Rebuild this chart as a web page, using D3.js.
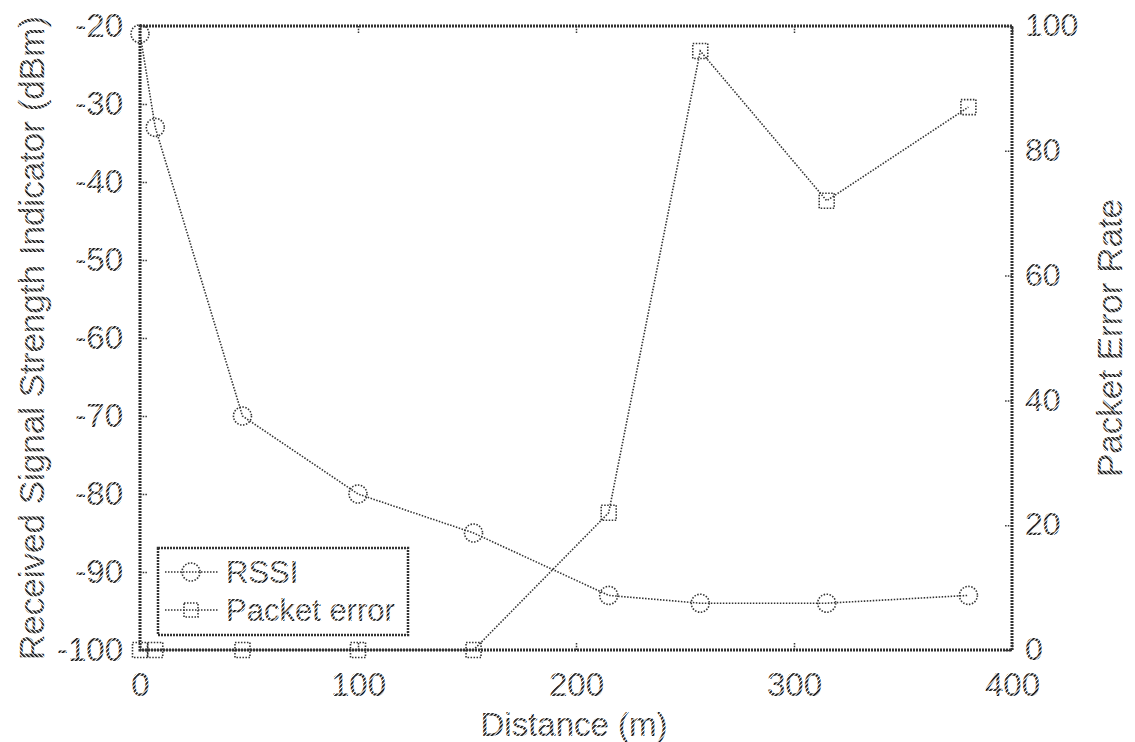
<!DOCTYPE html>
<html>
<head>
<meta charset="utf-8">
<script src="https://cdn.jsdelivr.net/npm/d3@7"></script>
<style>
  html, body { margin: 0; padding: 0; background: #fff; }
  svg { display: block; }
  text { font-family: "Liberation Sans", Arial, sans-serif; }
</style>
</head>
<body>
<svg id="chart" width="1135" height="742"></svg>
<script>
// ---- data ----
const distances   = [0, 7, 47, 100, 153, 215, 257, 315, 380];
const rssi        = [-21, -33, -70, -80, -85, -93, -94, -94, -93];
const packetError = [0, 0, 0, 0, 0, 22, 96, 72, 87];
const xTicks      = [0, 100, 200, 300, 400];
const leftTicks   = [-100, -90, -80, -70, -60, -50, -40, -30, -20];
const rightTicks  = [0, 20, 40, 60, 80, 100];
const seriesNames = ["RSSI", "Packet error"];

// ---- layout ----
const L = 140, R = 1012, T = 26, B = 650;

const svg = d3.select("#chart");
const defs = svg.append("defs");
// hatched texture used for text (mimics the stippled print)
const pat = defs.append("pattern")
  .attr("id", "hatch").attr("patternUnits", "userSpaceOnUse")
  .attr("width", 3).attr("height", 3)
  .attr("patternTransform", "rotate(45)");
pat.append("rect").attr("width", 3).attr("height", 3).attr("fill", "#fff");
pat.append("rect").attr("width", 1.8).attr("height", 3).attr("fill", "#111");

const ink = "url(#hatch)";
const lineCol = "#333";

const x  = d3.scaleLinear().domain([0, 400]).range([L, R]);
const yL = d3.scaleLinear().domain([-100, -20]).range([B, T]);
const yR = d3.scaleLinear().domain([0, 100]).range([B, T]);

const fmt = d => String(d);

function styleAxis(g, size) {
  g.select(".domain").remove();
  g.selectAll(".tick line").attr("stroke", lineCol).attr("stroke-width", 1.5)
    .attr("stroke-dasharray", "1.5,1.2");
  g.selectAll(".tick text").attr("fill", ink).attr("font-size", size)
    .attr("font-family", "'Liberation Sans', Arial, sans-serif");
}

// bottom axis
svg.append("g").attr("transform", `translate(0,${B})`)
  .call(d3.axisBottom(x).tickValues(xTicks).tickSizeInner(-8).tickSizeOuter(0).tickPadding(23).tickFormat(fmt))
  .call(g => styleAxis(g, 33));
// top ticks
svg.append("g").attr("transform", `translate(0,${T})`)
  .call(d3.axisTop(x).tickValues(xTicks).tickSizeInner(-8).tickSizeOuter(0).tickFormat(""))
  .call(g => styleAxis(g, 33));
// left axis
svg.append("g").attr("transform", `translate(${L},0)`)
  .call(d3.axisLeft(yL).tickValues(leftTicks).tickSizeInner(-8).tickSizeOuter(0).tickPadding(17).tickFormat(fmt))
  .call(g => styleAxis(g, 33));
// right axis
svg.append("g").attr("transform", `translate(${R},0)`)
  .call(d3.axisRight(yR).tickValues(rightTicks).tickSizeInner(-8).tickSizeOuter(0).tickPadding(13).tickFormat(fmt))
  .call(g => styleAxis(g, 32))
  .call(g => g.selectAll(".tick text").attr("dy", "0.3em"));

// frame
svg.append("rect").attr("x", L).attr("y", T).attr("width", R - L).attr("height", B - T)
  .attr("fill", "none").attr("stroke", lineCol).attr("stroke-width", 3)
  .attr("stroke-dasharray", "2,1");

// axis titles
svg.append("text").attr("x", (L + R) / 2 - 2).attr("y", 736)
  .attr("text-anchor", "middle").attr("font-size", 33).attr("fill", ink).text("Distance (m)");
svg.append("text").attr("transform", `translate(44,${(T + B) / 2}) rotate(-90)`)
  .attr("text-anchor", "middle").attr("font-size", 35).attr("fill", ink)
  .text("Received Signal Strength Indicator (dBm)");
svg.append("text").attr("transform", `translate(1122,${(T + B) / 2}) rotate(-90)`)
  .attr("text-anchor", "middle").attr("font-size", 35).attr("fill", ink)
  .text("Packet Error Rate");

// series
const rssiPts = distances.map((d, i) => [x(d), yL(rssi[i])]);
const perPts  = distances.map((d, i) => [x(d), yR(packetError[i])]);
const line = d3.line();

const plot = svg.append("g");
plot.append("path").attr("d", line(rssiPts)).attr("fill", "none")
  .attr("stroke", lineCol).attr("stroke-width", 1.6).attr("stroke-dasharray", "1.5,1.5");
plot.append("path").attr("d", line(perPts)).attr("fill", "none")
  .attr("stroke", lineCol).attr("stroke-width", 1.6).attr("stroke-dasharray", "1.5,1.5");

plot.selectAll("circle.rssi").data(rssiPts).join("circle").attr("class", "rssi")
  .attr("cx", d => d[0]).attr("cy", d => d[1]).attr("r", 9)
  .attr("fill", "none").attr("stroke", lineCol).attr("stroke-width", 1.6).attr("stroke-dasharray", "1.5,1.5");
plot.selectAll("rect.per").data(perPts).join("rect").attr("class", "per")
  .attr("x", d => d[0] - 7.5).attr("y", d => d[1] - 7.5).attr("width", 15).attr("height", 15)
  .attr("fill", "none").attr("stroke", lineCol).attr("stroke-width", 1.6).attr("stroke-dasharray", "1.5,1.5");

// legend
const lg = svg.append("g");
lg.append("rect").attr("x", 158).attr("y", 548).attr("width", 250).attr("height", 87)
  .attr("fill", "#fff").attr("stroke", lineCol).attr("stroke-width", 2.5).attr("stroke-dasharray", "2,1");
const rowsY = [572, 610];
seriesNames.forEach((name, i) => {
  const yy = rowsY[i];
  lg.append("line").attr("x1", 165).attr("x2", 218).attr("y1", yy).attr("y2", yy)
    .attr("stroke", lineCol).attr("stroke-width", 1.6).attr("stroke-dasharray", "1.5,1.5");
  if (i === 0) {
    lg.append("circle").attr("cx", 191).attr("cy", yy).attr("r", 9)
      .attr("fill", "none").attr("stroke", lineCol).attr("stroke-width", 1.6).attr("stroke-dasharray", "1.5,1.5");
  } else {
    lg.append("rect").attr("x", 184).attr("y", yy - 7).attr("width", 14).attr("height", 14)
      .attr("fill", "none").attr("stroke", lineCol).attr("stroke-width", 1.6).attr("stroke-dasharray", "1.5,1.5");
  }
  lg.append("text").attr("x", 226).attr("y", yy).attr("dy", "0.36em")
    .attr("font-size", 31).attr("fill", ink).text(name);
});
</script>
</body>
</html>
